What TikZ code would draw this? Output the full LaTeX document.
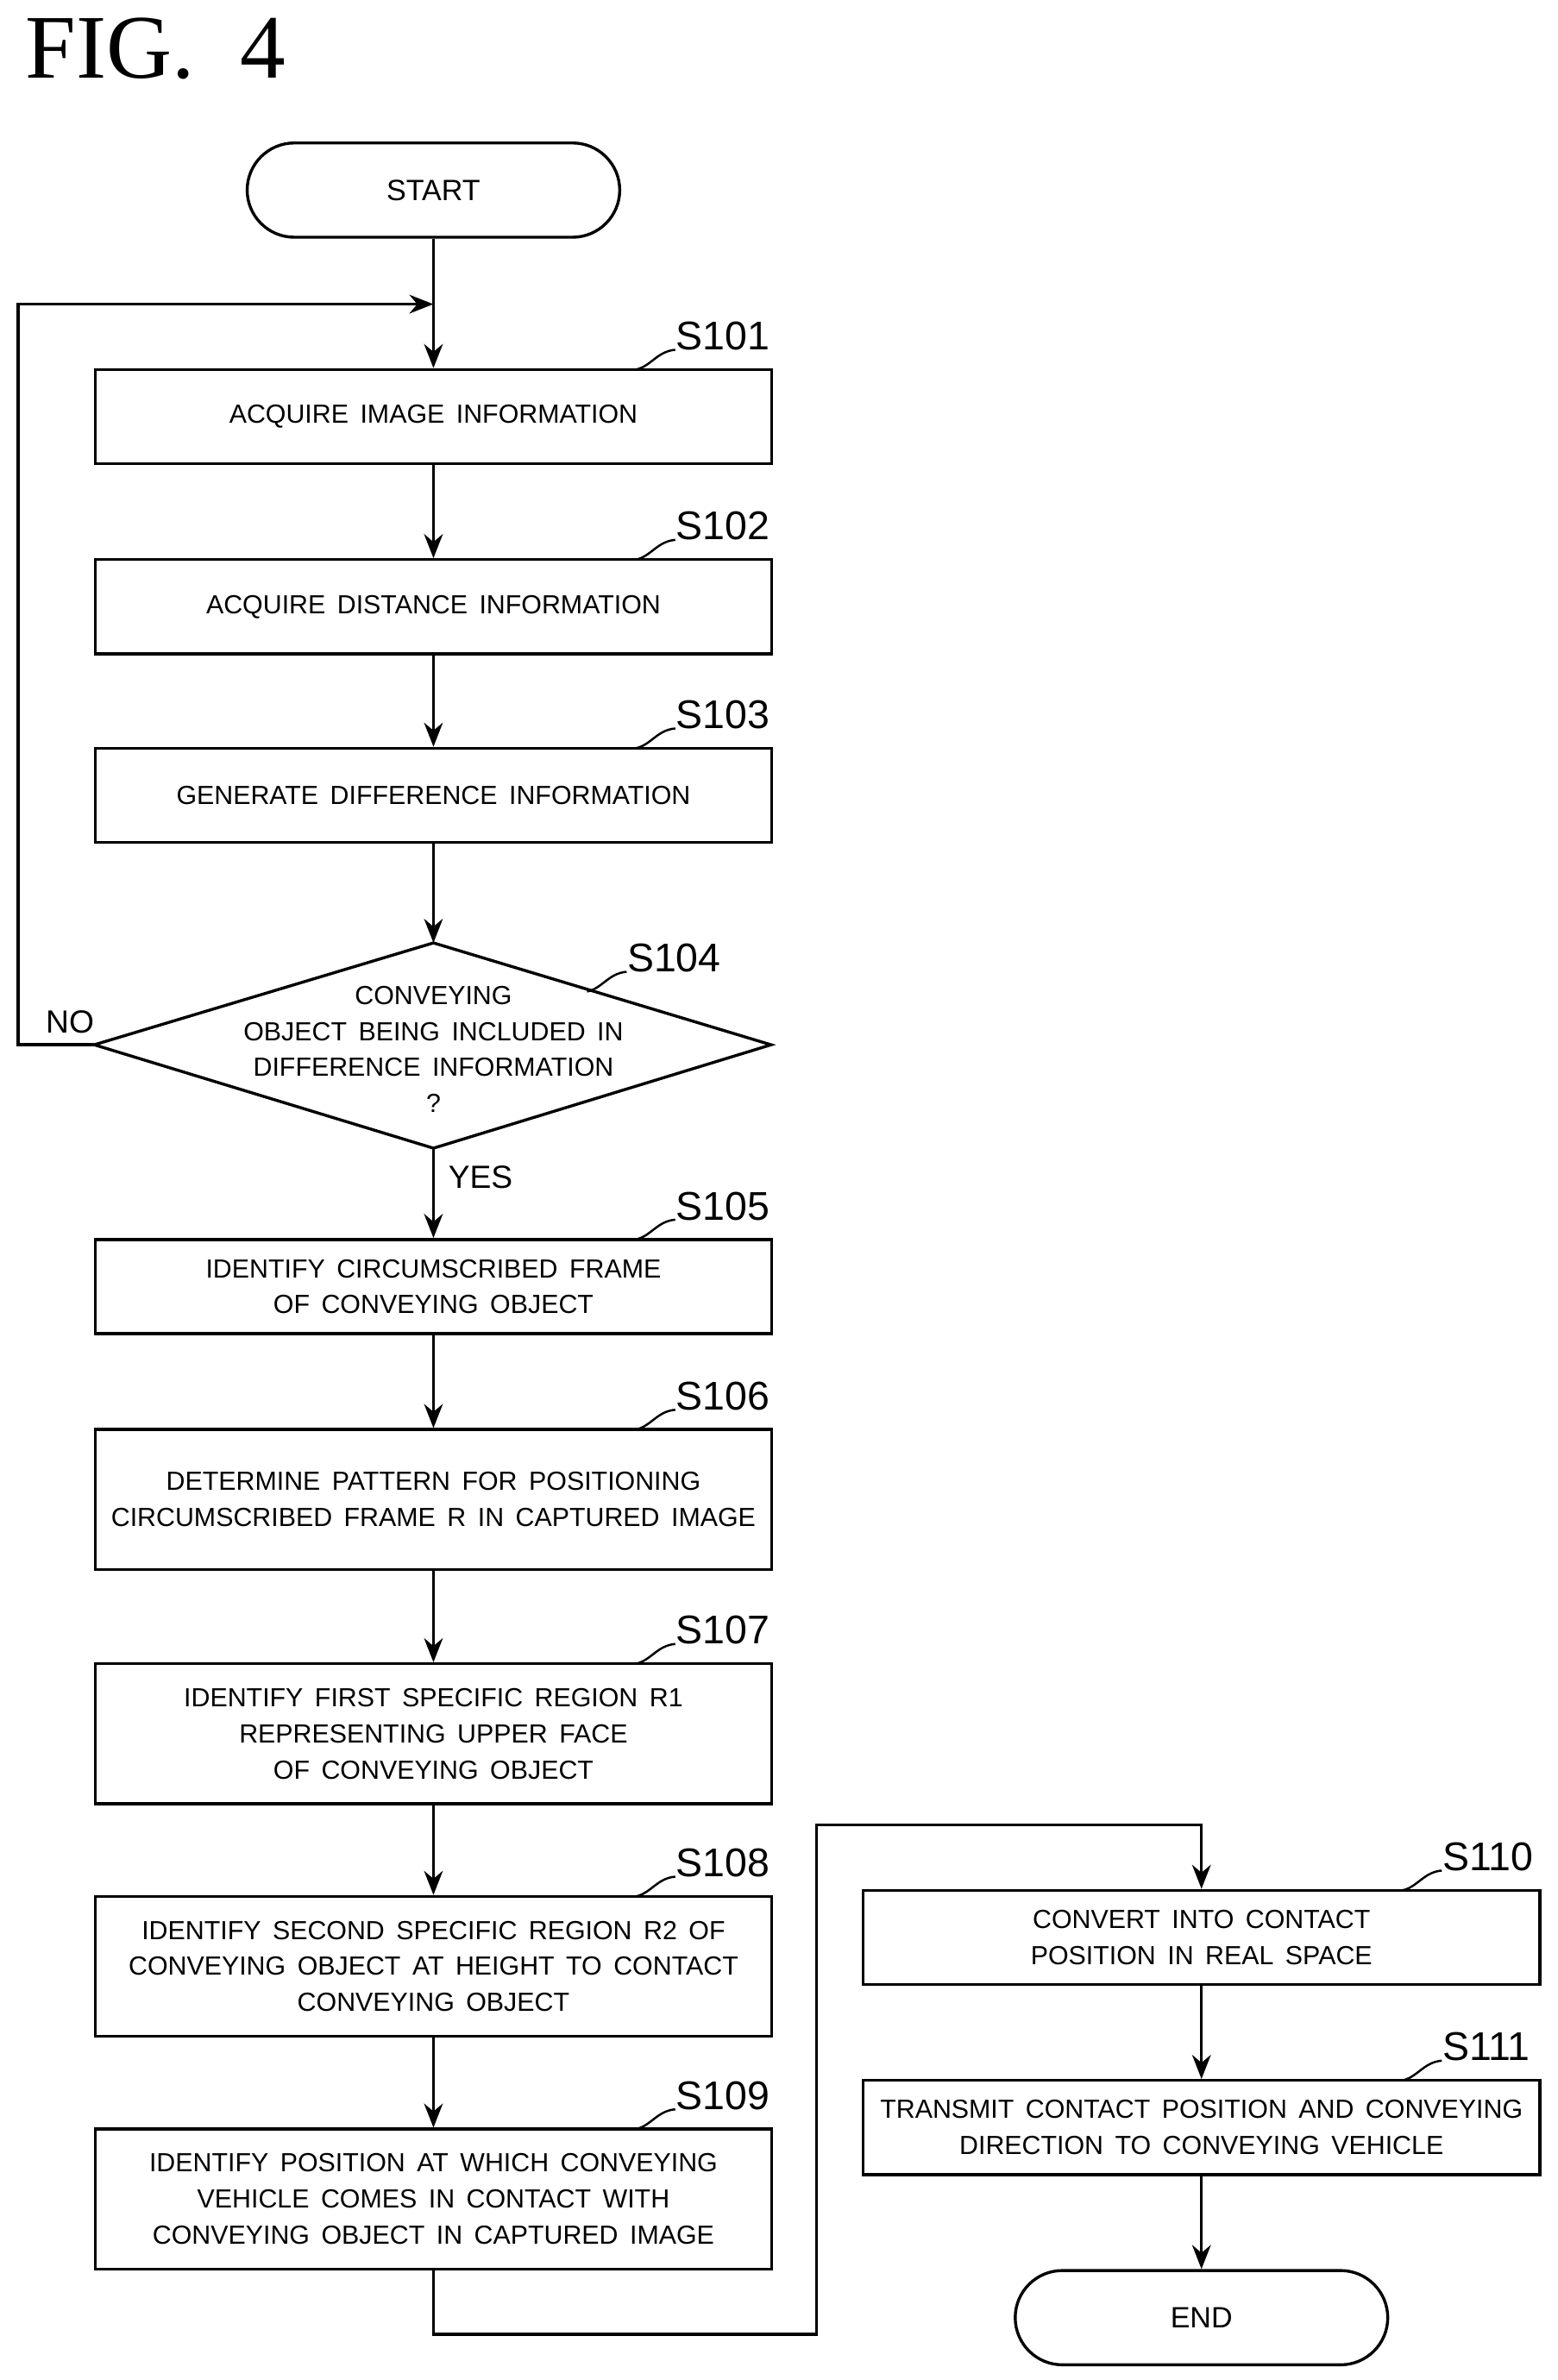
\documentclass[tikz,border=0pt]{standalone}
\usepackage{fontspec}
\setmainfont{Liberation Serif}
\newfontfamily\flowfont[WordSpace={1.6,0,0}]{Liberation Sans}
\usetikzlibrary{shapes.geometric,arrows.meta}
\begin{document}
\begin{tikzpicture}[x=0.02cm,y=-0.02cm,line width=1.1pt,
    step/.style={draw, rectangle, minimum width=8.9cm, minimum height=#1,
      align=center, inner sep=1pt, font=\flowfont\fontsize{9.8}{13.5}\selectfont},
    step/.default=1.24cm,
    term/.style={draw, rounded corners=0.62cm, minimum width=4.9cm,
      minimum height=1.24cm, font=\flowfont\fontsize{11}{14}\selectfont},
    tag/.style={font=\flowfont\fontsize{15}{15}\selectfont, anchor=west, inner sep=1pt},
    arr/.style={-{Stealth[length=9pt,width=7pt]}}]
\useasboundingbox (0,0) rectangle (1024,1565);
\node[font=\fontsize{34}{34}\selectfont, anchor=west] (fig) at (10,32) {FIG.\ \ 4};

% main column
\node[term] (start) at (285,125) {START};
\node[step] (s101) at (285,274) {ACQUIRE IMAGE INFORMATION};
\node[step] (s102) at (285,399) {ACQUIRE DISTANCE INFORMATION};
\node[step] (s103) at (285,523) {GENERATE DIFFERENCE INFORMATION};
\coordinate (s104n) at (285,620);
\coordinate (s104e) at (507,687);
\coordinate (s104s) at (285,755);
\coordinate (s104w) at (62,687);
\draw (s104n) -- (s104e) -- (s104s) -- (s104w) -- cycle;
\node[align=center, font=\flowfont\fontsize{9.8}{13.5}\selectfont]
      (s104) at (285,690) {CONVEYING\\OBJECT BEING INCLUDED IN\\DIFFERENCE INFORMATION\\?};
\node[step] (s105) at (285,846) {IDENTIFY CIRCUMSCRIBED FRAME\\OF CONVEYING OBJECT};
\node[step=1.84cm] (s106) at (285,986) {DETERMINE PATTERN FOR POSITIONING\\CIRCUMSCRIBED FRAME R IN CAPTURED IMAGE};
\node[step=1.84cm] (s107) at (285,1140) {IDENTIFY FIRST SPECIFIC REGION R1\\REPRESENTING UPPER FACE\\OF CONVEYING OBJECT};
\node[step=1.84cm] (s108) at (285,1293) {IDENTIFY SECOND SPECIFIC REGION R2 OF\\CONVEYING OBJECT AT HEIGHT TO CONTACT\\CONVEYING OBJECT};
\node[step=1.84cm] (s109) at (285,1446) {IDENTIFY POSITION AT WHICH CONVEYING\\VEHICLE COMES IN CONTACT WITH\\CONVEYING OBJECT IN CAPTURED IMAGE};

% right column
\node[step] (s110) at (790,1274) {CONVERT INTO CONTACT\\POSITION IN REAL SPACE};
\node[step] (s111) at (790,1399) {TRANSMIT CONTACT POSITION AND CONVEYING\\DIRECTION TO CONVEYING VEHICLE};
\node[term] (end) at (790,1524) {END};

% connectors
\coordinate (loop) at (285,200);
\draw (start) -- (loop);
\draw[arr] (loop) -- (s101);
\draw[arr] (s101) -- (s102);
\draw[arr] (s102) -- (s103);
\draw[arr] (s103) -- (s104n);
\draw[arr] (s104w) -- (12,687) -- (12,200) -- (loop);
\draw[arr] (s104s) -- (s105);
\draw[arr] (s105) -- (s106);
\draw[arr] (s106) -- (s107);
\draw[arr] (s107) -- (s108);
\draw[arr] (s108) -- (s109);
\draw[arr] (s109.south) -- (285,1535) -- (537,1535) -- (537,1200) -- (790,1200) -- (s110.north);
\draw[arr] (s110) -- (s111);
\draw[arr] (s111) -- (end);

\node[font=\flowfont\fontsize{12}{12}\selectfont] (no) at (46,672) {NO};
\node[font=\flowfont\fontsize{12}{12}\selectfont] (yes) at (316,774) {YES};

% step tags
\foreach \n/\x/\y/\t in {s101/418/243/S101, s102/418/368/S102, s103/418/492/S103,
    s105/418/815/S105, s106/418/940/S106, s107/418/1094/S107, s108/418/1247/S108,
    s109/418/1400/S109, s110/922/1243/S110, s111/922/1368/S111, s104/386/652/S104}{
  \draw[line width=0.8pt] (\x,\y) .. controls (\x+10,\y-2) and (\x+14,\y-12) .. (\x+26,\y-13)
    node[tag] (tag\n) at (\x+24,\y-22) {\t};
}
\end{tikzpicture}
\end{document}
